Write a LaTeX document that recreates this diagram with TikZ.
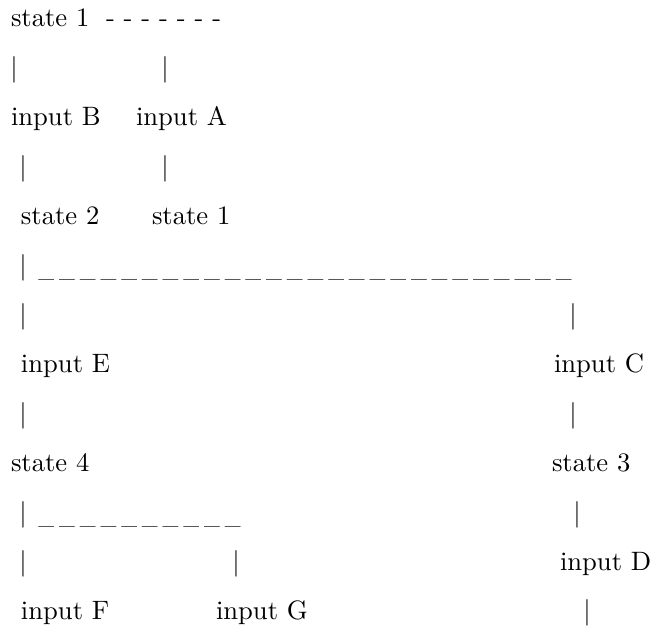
\documentclass[tikz,border=0pt]{standalone}
\newcommand\usc{\makebox[7.78pt][l]{\raisebox{-1pt}{\scalebox{0.79}[1]{\_}}}}
\begin{document}
\begin{tikzpicture}[x=0.3759pt,y=-0.3759pt,
  lbl/.style={anchor=base west,inner sep=0pt,outer sep=0pt},
  vbar/.style={anchor=base,inner sep=0pt,outer sep=0pt}]
\useasboundingbox (0,0) rectangle (652,632);
% row 0
\node[lbl] (s1a) at (11,27) {state 1};
\node[lbl] (d1) at (106,27) {- - - - - - -};
% row 1
\node[vbar] (b1a) at (14,76.4) {|};
\node[vbar] (b1b) at (165,76.4) {|};
% row 2
\node[lbl] (iB) at (11,125.8) {input B};
\node[lbl] (iA) at (136,125.8) {input A};
% row 3
\node[vbar] (b3a) at (23,175.2) {|};
\node[vbar] (b3b) at (165,175.2) {|};
% row 4
\node[lbl] (s2) at (21,224.6) {state 2};
\node[lbl] (s1b) at (152,224.6) {state 1};
% row 5
\node[vbar] (b5a) at (23,274) {|};
\node[lbl] (u5) at (38.5,274) {\usc\usc\usc\usc\usc\usc\usc\usc\usc\usc\usc\usc\usc\usc\usc\usc\usc\usc\usc\usc\usc\usc\usc\usc\usc\usc};
% row 6
\node[vbar] (b6a) at (23,323.4) {|};
\node[vbar] (b6b) at (573,323.4) {|};
% row 7
\node[lbl] (iE) at (21,372.8) {input E};
\node[lbl] (iC) at (554,372.8) {input C};
% row 8
\node[vbar] (b8a) at (23,422.2) {|};
\node[vbar] (b8b) at (573,422.2) {|};
% row 9
\node[lbl] (s4) at (11,471.6) {state 4};
\node[lbl] (s3) at (552,471.6) {state 3};
% row 10
\node[vbar] (b10a) at (23,521) {|};
\node[lbl] (u10) at (38.5,521) {\usc\usc\usc\usc\usc\usc\usc\usc\usc\usc};
\node[vbar] (b10b) at (577,521) {|};
% row 11
\node[vbar] (b11a) at (23,570.4) {|};
\node[vbar] (b11b) at (236,570.4) {|};
\node[lbl] (iD) at (560,570.4) {input D};
% row 12
\node[lbl] (iF) at (21,619.8) {input F};
\node[lbl] (iG) at (216,619.8) {input G};
\node[vbar] (b12) at (587,619.8) {|};
\end{tikzpicture}
\end{document}
